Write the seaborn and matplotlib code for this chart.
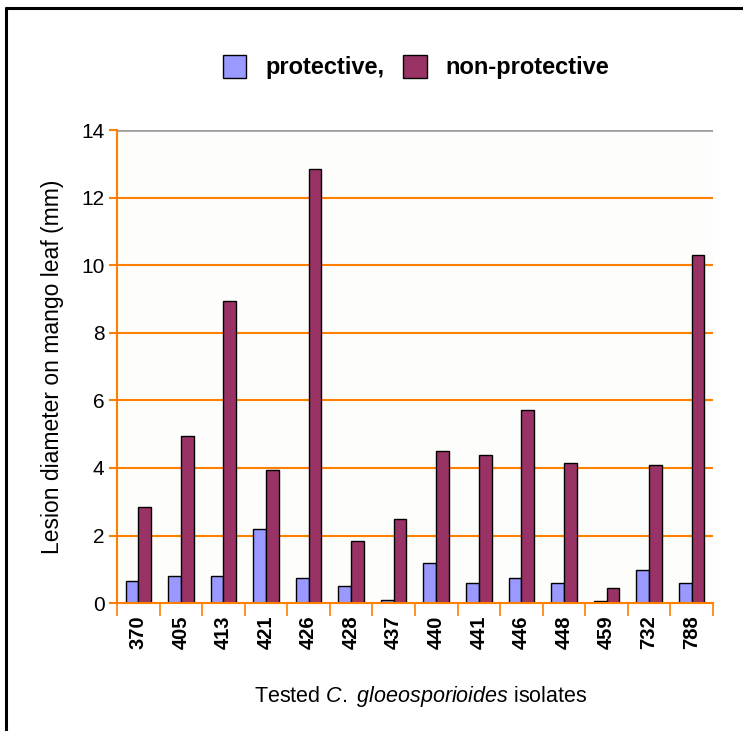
import matplotlib
matplotlib.use("Agg")
import matplotlib.pyplot as plt
from matplotlib.lines import Line2D
from matplotlib.patches import Patch
from matplotlib.ticker import FixedLocator
import seaborn as sns
import pandas as pd

isolates = ["370", "405", "413", "421", "426", "428", "437", "440", "441", "446", "448", "459", "732", "788"]
protective = [0.65, 0.8, 0.8, 2.2, 0.75, 0.5, 0.1, 1.2, 0.6, 0.75, 0.6, 0.05, 0.97, 0.6]
non_protective = [2.85, 4.95, 8.95, 3.95, 12.85, 1.85, 2.5, 4.5, 4.38, 5.72, 4.14, 0.44, 4.08, 10.3]
series_names = ["protective,", "non-protective"]
colors = ["#9999FF", "#993366"]

df = pd.DataFrame({
    "isolate": isolates * 2,
    "value": protective + non_protective,
    "series": [series_names[0]] * len(isolates) + [series_names[1]] * len(isolates),
})

sns.set_theme(style="white")
plt.rcParams["font.family"] = ["Liberation Sans", "DejaVu Sans"]
plt.rcParams["mathtext.fontset"] = "custom"
plt.rcParams["mathtext.it"] = "Liberation Sans:italic"
plt.rcParams["mathtext.rm"] = "Liberation Sans"
plt.rcParams["text.color"] = "black"
plt.rcParams["axes.labelcolor"] = "black"

fig = plt.figure(figsize=(7.43, 7.31), dpi=100)
ax = fig.add_axes([0.1575, 0.175, 0.802, 0.647])
ax.set_facecolor("#FDFDFB")

sns.barplot(data=df, x="isolate", y="value", hue="series", order=isolates,
            hue_order=series_names, palette=colors, width=0.6,
            edgecolor="black", linewidth=1.0, ax=ax, legend=False, saturation=1)

ax.set_ylim(0, 14)
ax.set_xlim(-0.5, len(isolates) - 0.5)
ax.set_yticks(range(0, 15, 2))
for y in range(2, 14, 2):
    ax.axhline(y, color="#FF8000", lw=1.5, zorder=0)
ax.axhline(14, color="#A0A0A0", lw=2, zorder=0)

for s in ["top", "right"]:
    ax.spines[s].set_visible(False)
for s in ["left", "bottom"]:
    ax.spines[s].set_color("#FF8000")
    ax.spines[s].set_linewidth(1.5)

ax.tick_params(axis="y", colors="#FF8000", length=6, width=1.5, labelsize=15,
               labelcolor="black", left=True, pad=3)
ax.tick_params(axis="x", which="major", length=0, labelsize=14.5, labelcolor="black",
               pad=9, rotation=90)
for lab in ax.get_xticklabels():
    lab.set_fontweight("bold")
ax.xaxis.set_minor_locator(FixedLocator([i - 0.5 for i in range(len(isolates) + 1)]))
ax.tick_params(axis="x", which="minor", bottom=True, length=9, width=1.2, color="#FF8000")

ax.set_ylabel("Lesion diameter on mango leaf (mm)", fontsize=16.5, labelpad=12)
ax.set_xlabel("")
fig.text(0.566, 0.047, r"Tested $\it{C.\ gloeosporioides}$ isolates", ha="center",
         va="center", fontsize=15.5)

handles = [Patch(facecolor=c, edgecolor="black", linewidth=1) for c in colors]
fig.legend(handles, series_names, loc="center", bbox_to_anchor=(0.56, 0.908), ncol=2,
           frameon=False, prop={"weight": "bold", "size": 17}, handlelength=1.0,
           handleheight=1.1, columnspacing=0.8, handletextpad=0.8)

fig.add_artist(Line2D([0.0081, 0.0081], [0, 0.989], color="black", lw=2.2,
                      transform=fig.transFigure))
fig.add_artist(Line2D([0.0081, 1.0], [0.989, 0.989], color="black", lw=2.2,
                      transform=fig.transFigure))

fig.savefig("out.png", dpi=100)
